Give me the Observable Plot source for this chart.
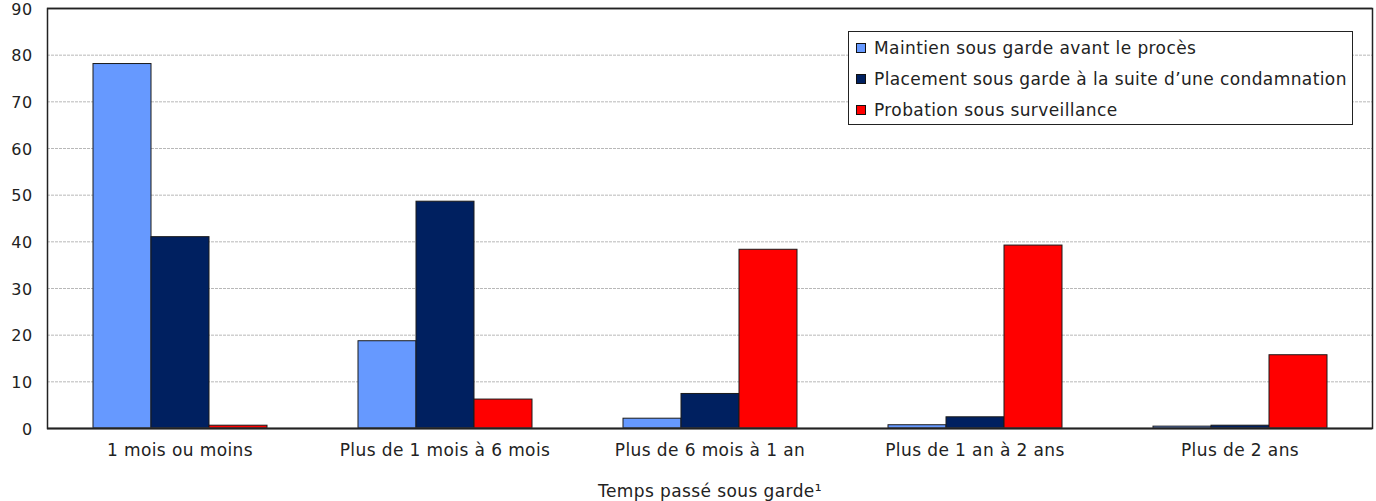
<!DOCTYPE html>
<html lang="fr">
<head>
<meta charset="utf-8">
<script src="https://cdn.jsdelivr.net/npm/d3@7"></script>
<script src="https://cdn.jsdelivr.net/npm/@observablehq/plot@0.6"></script>
<style>
  html, body { margin: 0; padding: 0; background: #fff; }
  #chart { position: relative; width: 1376px; height: 501px; font-family: "DejaVu Sans", Verdana, sans-serif; }
  #chart svg { display: block; overflow: visible; }
  #chart svg text { letter-spacing: 0.4px; }
  .legend {
    position: absolute; left: 848px; top: 31px; width: 505px; height: 94px;
    border: 1px solid #222; background: #fff; box-sizing: border-box;
    padding: 0 0 0 7px; font-size: 17px; letter-spacing: 0.4px; color: #222;
  }
  .legend .row { display: flex; align-items: center; height: 31px; }
  .legend .sw { width: 8px; height: 8px; border: 1px solid #111; margin-right: 8px; flex: none; }
</style>
</head>
<body>
<div id="chart"></div>
<script>
// Durée passée sous garde, répartition (%) selon le type de garde
const categories = [
  "1 mois ou moins",
  "Plus de 1 mois à 6 mois",
  "Plus de 6 mois à 1 an",
  "Plus de 1 an à 2 ans",
  "Plus de 2 ans"
];
const series = [
  "Maintien sous garde avant le procès",
  "Placement sous garde à la suite d’une condamnation",
  "Probation sous surveillance"
];
const pretrial   = [78.1, 18.7, 2.1, 0.7, 0.4];
const sentenced  = [41.0, 48.6, 7.4, 2.4, 0.6];
const probation  = [0.6, 6.2, 38.3, 39.2, 15.7];
const colors = ["#6699ff", "#002060", "#ff0000"];
const yTicks = [0, 10, 20, 30, 40, 50, 60, 70, 80, 90];
const gridTicks = [10, 20, 30, 40, 50, 60, 70, 80];
const xTitle = "Temps passé sous garde¹";

const valuesBySeries = [pretrial, sentenced, probation];
const rows = series.flatMap((s, j) =>
  categories.map((c, i) => ({category: c, series: s, value: valuesBySeries[j][i]}))
);

const chart = Plot.plot({
  width: 1376,
  height: 501,
  marginLeft: 46,
  marginRight: 4,
  marginTop: 8,
  marginBottom: 73,
  style: {fontFamily: "DejaVu Sans, Verdana, sans-serif", fontSize: "17px", color: "#222", background: "#fff"},
  fx: {domain: categories, padding: 0, label: xTitle},
  x: {domain: series, paddingInner: 0, paddingOuter: 0.75, axis: null},
  y: {domain: [0, 90], ticks: yTicks, axis: null},
  color: {domain: series, range: colors},
  marks: [
    Plot.ruleY(gridTicks, {stroke: "#b8b8b8", strokeDasharray: "3,1", strokeWidth: 1}),
    Plot.barY(rows, {fx: "category", x: "series", y: "value", fill: "series", stroke: "#1a1a1a", strokeWidth: 1}),
    Plot.ruleY([90], {stroke: "#222", strokeWidth: 1.5}),
    Plot.ruleY([0], {stroke: "#444", strokeWidth: 2}),
    Plot.frame({facet: "super", stroke: "#222", strokeWidth: 1.5}),
    Plot.axisY(yTicks, {tickSize: 0, tickPadding: 15, fontSize: 16, dy: 1, fill: "#222", label: null}),
    Plot.axisFx({anchor: "bottom", tickSize: 0, tickPadding: 15, fontSize: 17, fill: "#222",
                 label: xTitle, labelAnchor: "center", labelOffset: 68})
  ]
});

const root = document.getElementById("chart");
root.appendChild(chart);

// Légende encadrée, en haut à droite de la zone de tracé
const legend = document.createElement("div");
legend.className = "legend";
series.forEach((s, j) => {
  const row = document.createElement("div");
  row.className = "row";
  const sw = document.createElement("span");
  sw.className = "sw";
  sw.style.background = colors[j];
  const label = document.createElement("span");
  label.textContent = s;
  row.appendChild(sw);
  row.appendChild(label);
  legend.appendChild(row);
});
root.appendChild(legend);
</script>
</body>
</html>
